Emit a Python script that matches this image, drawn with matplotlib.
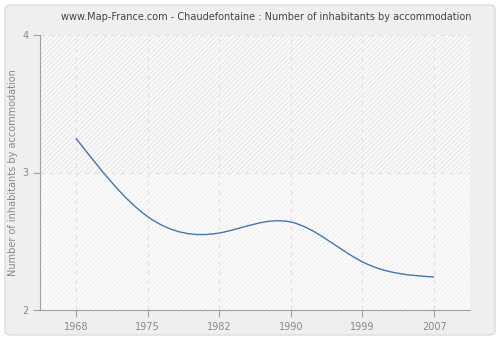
import matplotlib
matplotlib.use("Agg")
import matplotlib.pyplot as plt
import numpy as np
from matplotlib.patches import FancyBboxPatch, PathPatch
from matplotlib.path import Path

years = ["1968", "1975", "1982", "1990", "1999", "2007"]
values = [3.25, 2.68, 2.56, 2.64, 2.35, 2.24]
title = "www.Map-France.com - Chaudefontaine : Number of inhabitants by accommodation"
ylabel = "Number of inhabitants by accommodation"


def spline_path(x, y):
    # natural cubic spline written as Bezier segments
    x = np.asarray(x, float)
    y = np.asarray(y, float)
    n = len(x)
    h = np.diff(x)
    A = np.zeros((n, n))
    b = np.zeros(n)
    A[0, 0] = A[-1, -1] = 1
    for i in range(1, n - 1):
        A[i, i - 1] = h[i - 1]
        A[i, i] = 2 * (h[i - 1] + h[i])
        A[i, i + 1] = h[i]
        b[i] = 6 * ((y[i + 1] - y[i]) / h[i] - (y[i] - y[i - 1]) / h[i - 1])
    M = np.linalg.solve(A, b)
    verts = [(x[0], y[0])]
    codes = [Path.MOVETO]
    for i in range(n - 1):
        s = (y[i + 1] - y[i]) / h[i]
        m0 = s - h[i] * (2 * M[i] + M[i + 1]) / 6
        m1 = s + h[i] * (M[i] + 2 * M[i + 1]) / 6
        verts += [(x[i] + h[i] / 3, y[i] + h[i] * m0 / 3),
                  (x[i + 1] - h[i] / 3, y[i + 1] - h[i] * m1 / 3),
                  (x[i + 1], y[i + 1])]
        codes += [Path.CURVE4] * 3
    return Path(verts, codes)


fig = plt.figure(figsize=(5, 3.4), dpi=100)
fig.patch.set_facecolor("white")
bg = FancyBboxPatch((5 / 500, 5 / 340), 490 / 500, 330 / 340,
                    boxstyle="round,pad=0,rounding_size=0.012",
                    transform=fig.transFigure, facecolor="#efefef",
                    edgecolor="#dddddd", linewidth=1, zorder=-10)
fig.patches.append(bg)

ax = fig.add_axes([40 / 500, 30 / 340, 430 / 500, 275 / 340], zorder=1)
ax.set_facecolor("#fbfbfb")
pos = np.arange(len(years))
ax.set_xlim(-0.5, len(years) - 0.5)
ax.set_ylim(2, 4)
ax.axhspan(3, 4, facecolor="#fbfbfb", edgecolor="#e9e9e9", hatch="///////", linewidth=0, zorder=0)
ax.axhspan(2, 3, facecolor="#fbfbfb", edgecolor="#f2f2f2", hatch="///////", linewidth=0, zorder=0)

ax.add_patch(PathPatch(spline_path(pos, values), facecolor="none",
                       edgecolor="#4a74aa", linewidth=1.0, zorder=3))

ax.set_xticks(pos)
ax.set_xticklabels(years)
ax.set_yticks([2, 3, 4])
ax.grid(True, color="#e2e2e2", linestyle=(0, (4, 4)), linewidth=0.8)
ax.set_axisbelow(True)
for s in ["top", "right"]:
    ax.spines[s].set_visible(False)
for s in ["left", "bottom"]:
    ax.spines[s].set_color("#a0a0a0")
ax.tick_params(colors="#a0a0a0", labelcolor="#888888", labelsize=7, length=5, width=0.8)
ax.set_ylabel(ylabel, color="#888888", fontsize=7)
ax.yaxis.set_label_coords(-0.052, 0.5)

fig.text(266 / 500, 1 - 17 / 340, title, ha="center", va="center", fontsize=7, color="#444444")

fig.savefig("out.png", dpi=100)
